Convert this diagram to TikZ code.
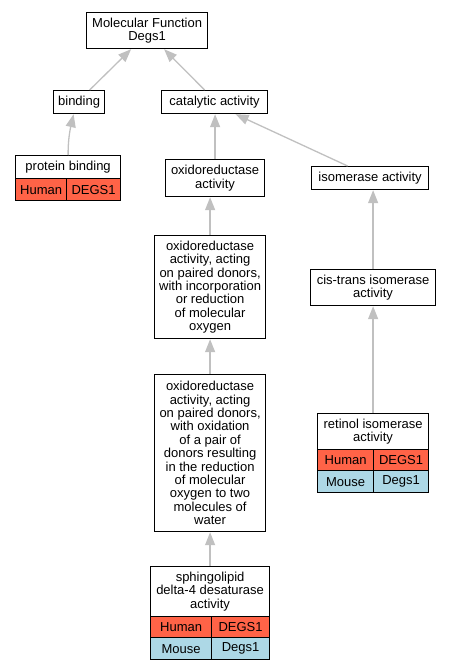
\documentclass[tikz,border=0pt]{standalone}
\usepackage{fontspec}
\setmainfont{Liberation Sans}
\usetikzlibrary{arrows.meta}
\definecolor{human}{RGB}{255,99,71}
\definecolor{mouse}{RGB}{173,216,230}
\definecolor{edgegray}{RGB}{192,192,192}
\newcommand\fs{\fontsize{13}{13.4}\selectfont}
\begin{document}
\begin{tikzpicture}[x=1pt,y=-1pt,
  box/.style={draw=black,line width=1.2pt,fill=white,inner sep=0pt,align=center,anchor=north west,font=\fs},
  hum/.style={box,fill=human},
  mou/.style={box,fill=mouse},
  edge/.style={draw=edgegray,line width=1.3pt,-{Triangle[length=13pt,width=10pt]}}]
\useasboundingbox (0,0) rectangle (449,669);
% nodes
\node[box,minimum width=121pt,minimum height=36pt] (mf) at (86,12) {Molecular Function\\Degs1};
\node[box,minimum width=51pt,minimum height=23pt] (bind) at (53,90) {binding};
\node[box,minimum width=106pt,minimum height=23pt] (cat) at (161,90) {catalytic activity};
\node[box,minimum width=105pt,minimum height=23pt] (pb) at (15,155) {protein binding};
\node[hum,minimum width=51pt,minimum height=22pt] (pbh) at (15,178) {Human};
\node[hum,minimum width=54pt,minimum height=22pt] (pbg) at (66,178) {DEGS1};
\node[box,minimum width=99pt,minimum height=37pt] (ox) at (165,159) {oxidoreductase\\activity};
\node[box,minimum width=117pt,minimum height=23pt] (iso) at (311,166) {isomerase activity};
\node[box,minimum width=111pt,minimum height=103pt] (oxo2) at (154,235) {oxidoreductase\\activity, acting\\on paired donors,\\with incorporation\\or reduction\\of molecular\\oxygen};
\node[box,minimum width=125pt,minimum height=36pt] (ct) at (310,269) {cis-trans isomerase\\activity};
\node[box,minimum width=111pt,minimum height=157pt] (big) at (154,374) {oxidoreductase\\activity, acting\\on paired donors,\\with oxidation\\of a pair of\\donors resulting\\in the reduction\\of molecular\\oxygen to two\\molecules of\\water};
\node[box,minimum width=111pt,minimum height=36pt] (ret) at (317,413) {retinol isomerase\\activity};
\node[hum,minimum width=56pt,minimum height=21pt] (reth) at (317,449) {Human};
\node[hum,minimum width=55pt,minimum height=21pt] (retg) at (373,449) {DEGS1};
\node[mou,minimum width=56pt,minimum height=22pt] (retm) at (317,470) {Mouse};
\node[mou,minimum width=55pt,minimum height=22pt] (retd) at (373,470) {Degs1};
\node[box,minimum width=119pt,minimum height=50pt] (sph) at (150,566) {sphingolipid\\delta-4 desaturase\\activity};
\node[hum,minimum width=61pt,minimum height=21pt] (sphh) at (150,616) {Human};
\node[hum,minimum width=58pt,minimum height=21pt] (sphg) at (211,616) {DEGS1};
\node[mou,minimum width=61pt,minimum height=22pt] (sphm) at (150,637) {Mouse};
\node[mou,minimum width=58pt,minimum height=22pt] (sphd) at (211,637) {Degs1};
% edges
\draw[edge] ([xshift=10.5pt]bind.north) -- ([xshift=-16pt]mf.south);
\draw[edge] ([xshift=-10pt]cat.north) -- ([xshift=17pt]mf.south);
\draw[edge] (pb.north) .. controls (68,140) and (70,130) .. ([xshift=-5.5pt]bind.south);
\draw[edge] (ox.north) -- (ox.north |- cat.south);
\draw[edge] ([xshift=-22.5pt]iso.north) -- ([xshift=21pt]cat.south);
\draw[edge] (ct.north) -- (ct.north |- iso.south);
\draw[edge] (oxo2.north) -- (oxo2.north |- ox.south);
\draw[edge] (big.north) -- (oxo2.south);
\draw[edge] (ret.north) -- (ct.south);
\draw[edge] (sph.north) -- (big.south);
\end{tikzpicture}
\end{document}
